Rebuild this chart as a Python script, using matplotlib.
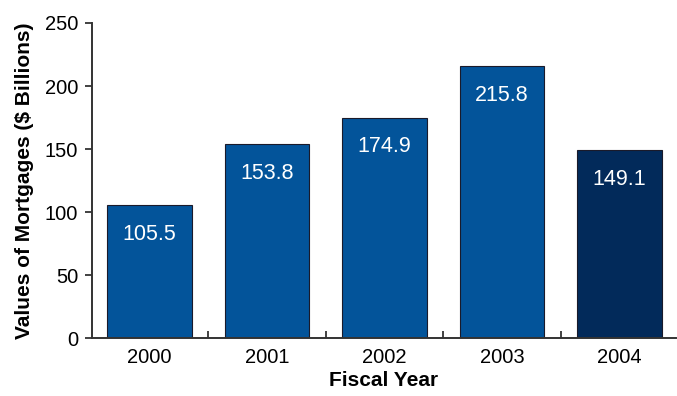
import numpy as np
import matplotlib.pyplot as plt

plt.rcParams['font.family'] = ['Liberation Sans', 'DejaVu Sans']

years = ['2000', '2001', '2002', '2003', '2004']
values = [105.5, 153.8, 174.9, 215.8, 149.1]
colors = ['#03549a', '#03549a', '#03549a', '#03549a', '#022a5a']

fig = plt.figure(figsize=(6.77, 3.96), dpi=100)
ax = fig.add_axes([0.136, 0.146, 0.862, 0.796])

x = np.arange(len(years))
bars = ax.bar(x, values, width=0.72, color=colors, edgecolor='#1a1a2a', linewidth=0.8)

# value printed inside the top of each bar
for xi, v in zip(x, values):
    ax.annotate(f'{v:.1f}', (xi, v), xytext=(0, -21), textcoords='offset points',
                ha='center', va='center', color='white', fontsize=15.5)

ax.set_xlim(-0.49, 4.48)
ax.set_ylim(0, 250)
ax.set_yticks([0, 50, 100, 150, 200, 250])
ax.set_xticks(x)
ax.set_xticklabels(years)
ax.set_xticks(x[:-1] + 0.5, minor=True)

ax.spines['top'].set_visible(False)
ax.spines['right'].set_visible(False)
for s in ('left', 'bottom'):
    ax.spines[s].set_linewidth(1.4)
    ax.spines[s].set_color('#333333')

ax.tick_params(axis='y', direction='out', length=5, width=1.3, color='#333333',
               labelsize=14.5, pad=5)
ax.tick_params(axis='x', which='major', length=0, labelsize=14.5, pad=7)
ax.tick_params(axis='x', which='minor', direction='in', length=5, width=1.3, color='#333333')

ax.set_xlabel('Fiscal Year', fontsize=15, fontweight='bold', labelpad=3)
ax.set_ylabel('Values of Mortgages ($ Billions)', fontsize=15, fontweight='bold', labelpad=8)

fig.savefig('out.png', dpi=100)
